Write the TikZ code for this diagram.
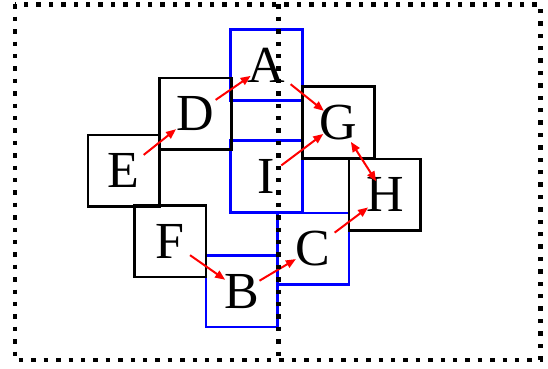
\documentclass[tikz,border=0pt]{standalone}
\usepackage{fontspec}
\setmainfont{Liberation Serif}
\usetikzlibrary{arrows.meta}
\begin{document}
\begin{tikzpicture}[x=1pt,y=-1pt,
  bbox/.style={draw=black,line width=2.6pt,minimum size=71.5pt,inner sep=0pt,
    font=\fontsize{52}{60}\selectfont},
  blbox/.style={bbox,draw=blue},
  arr/.style={draw=red,line width=2pt,-{Triangle[length=10pt,width=8pt]}},
  dotline/.style={line width=4.4pt,dash pattern=on 4.4pt off 8pt}
]
\useasboundingbox (0,0) rectangle (548,368);
% blue boxes
\node[blbox] (A) at (266.5,65) {A};
\node[blbox] (I) at (266.5,176.5) {I};
\node[blbox] (B) at (241.7,291.3) {B};
\node[blbox] (C) at (313.3,248.7) {C};
% black boxes
\node[bbox] (D) at (195.5,113.7) {D};
\node[bbox] (E) at (123.8,170.7) {E};
\node[bbox] (F) at (170.2,241.3) {F};
\node[bbox] (G) at (338.5,122.5) {G};
\node[bbox] (H) at (384.8,194.8) {H};
% arrows
\draw[arr,shorten <=25.4pt,shorten >=24.9pt] (E.center) -- (D.center);
\draw[arr,shorten <=24.4pt,shorten >=19.2pt] (D.center) -- (A.center);
\draw[arr,shorten <=30.8pt,shorten >=18.7pt] (A.center) -- (G.center);
\draw[arr,shorten <=18.5pt,shorten >=19.1pt] (I.center) -- (G.center);
\draw[arr,{Triangle[length=10pt,width=8pt]}-{Triangle[length=10pt,width=8pt]},shorten <=23pt,shorten >=16pt] (G.center) -- (H.center);
\draw[arr,shorten <=26.7pt,shorten >=21pt] (C.center) -- (H.center);
\draw[arr,shorten <=20.7pt,shorten >=20.3pt] (B.center) -- (C.center);
\draw[arr,shorten <=24.2pt,shorten >=20.2pt] (F.center) -- (B.center);
% dotted frame and divider
\draw[dotline] (14.7,4.3) rectangle (540.3,359.7);
\draw[dotline] (278.3,4.3) -- (278.3,359.7);
\end{tikzpicture}
\end{document}
